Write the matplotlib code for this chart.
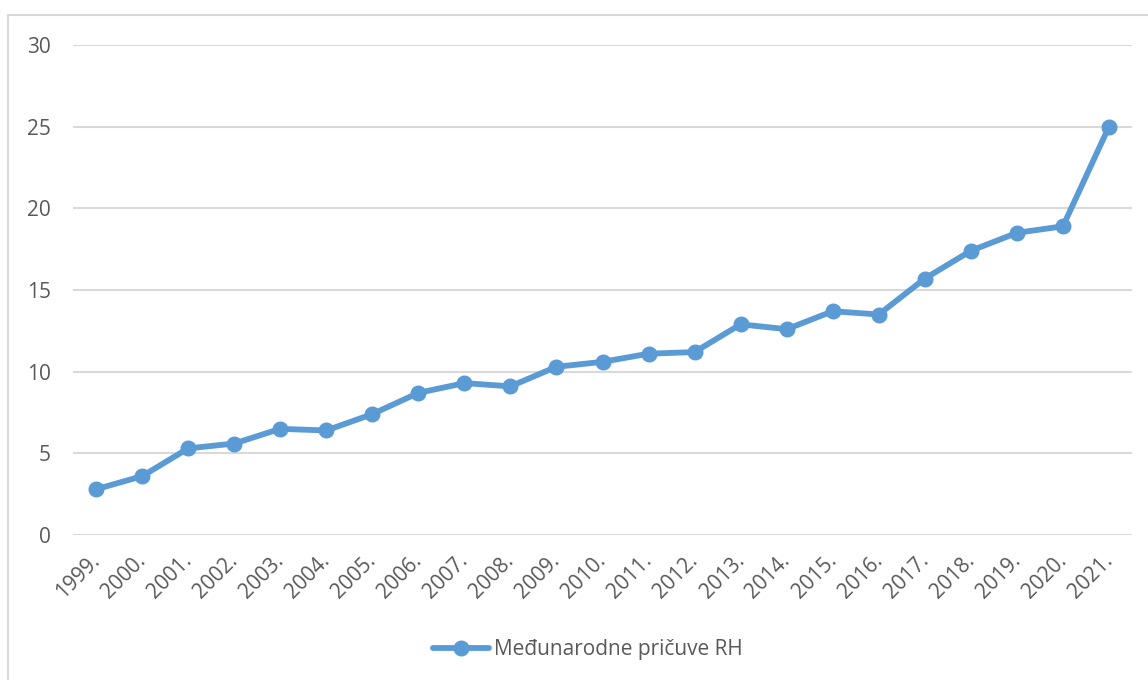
import matplotlib
matplotlib.use('Agg')
import matplotlib.pyplot as plt
from matplotlib.patches import Rectangle
from matplotlib.transforms import ScaledTranslation

# Međunarodne pričuve RH, mlrd. EUR
years = ['1999.', '2000.', '2001.', '2002.', '2003.', '2004.', '2005.', '2006.',
         '2007.', '2008.', '2009.', '2010.', '2011.', '2012.', '2013.', '2014.',
         '2015.', '2016.', '2017.', '2018.', '2019.', '2020.', '2021.']
reserves = [2.8, 3.6, 5.3, 5.6, 6.5, 6.4, 7.4, 8.7, 9.3, 9.1, 10.3, 10.6, 11.1,
            11.2, 12.9, 12.6, 13.7, 13.5, 15.7, 17.4, 18.5, 18.9, 25.0]
series_name = 'Međunarodne pričuve RH'

blue = '#5B9BD5'
txt = '#595959'
grid = '#D9D9D9'

plt.rcParams['font.family'] = ['Open Sans', 'DejaVu Sans']

fig = plt.figure(figsize=(11.48, 6.8), dpi=100)
fig.patches.append(Rectangle((8 / 1148, -0.1), 1.2, 1 - 15 / 680 + 0.1,
                             transform=fig.transFigure, fill=False,
                             edgecolor=grid, linewidth=1.5))

ax = fig.add_axes([73 / 1148, 1 - 535 / 680, (1132 - 73) / 1148, (535 - 45) / 680])
x = list(range(len(years)))
ax.plot(x, reserves, color=blue, linewidth=4.2, marker='o', markersize=10.5,
        label=series_name, solid_capstyle='round', zorder=3)

ax.set_xlim(-0.5, len(years) - 0.5)
ax.set_ylim(0, 30)
ax.set_yticks(range(0, 31, 5))
ax.set_xticks(x)
ax.set_xticklabels(years, rotation=45, ha='right', rotation_mode='anchor')
ax.yaxis.grid(True, color=grid, linewidth=1.5)
ax.set_axisbelow(True)
for s in ax.spines.values():
    s.set_visible(False)
ax.tick_params(axis='both', length=0, labelsize=15, colors=txt)
ax.tick_params(axis='y', pad=16)
ax.tick_params(axis='x', pad=11)
shift = ScaledTranslation(-5 / 72, 0, fig.dpi_scale_trans)
for lab in ax.get_xticklabels():
    lab.set_transform(lab.get_transform() + shift)

fig.legend(loc='center', bbox_to_anchor=(0.512, 1 - 650 / 680), frameon=False,
           fontsize=15, labelcolor=txt, handlelength=2.7, handletextpad=0.2)

fig.savefig('out.png', dpi=100, facecolor='white')
